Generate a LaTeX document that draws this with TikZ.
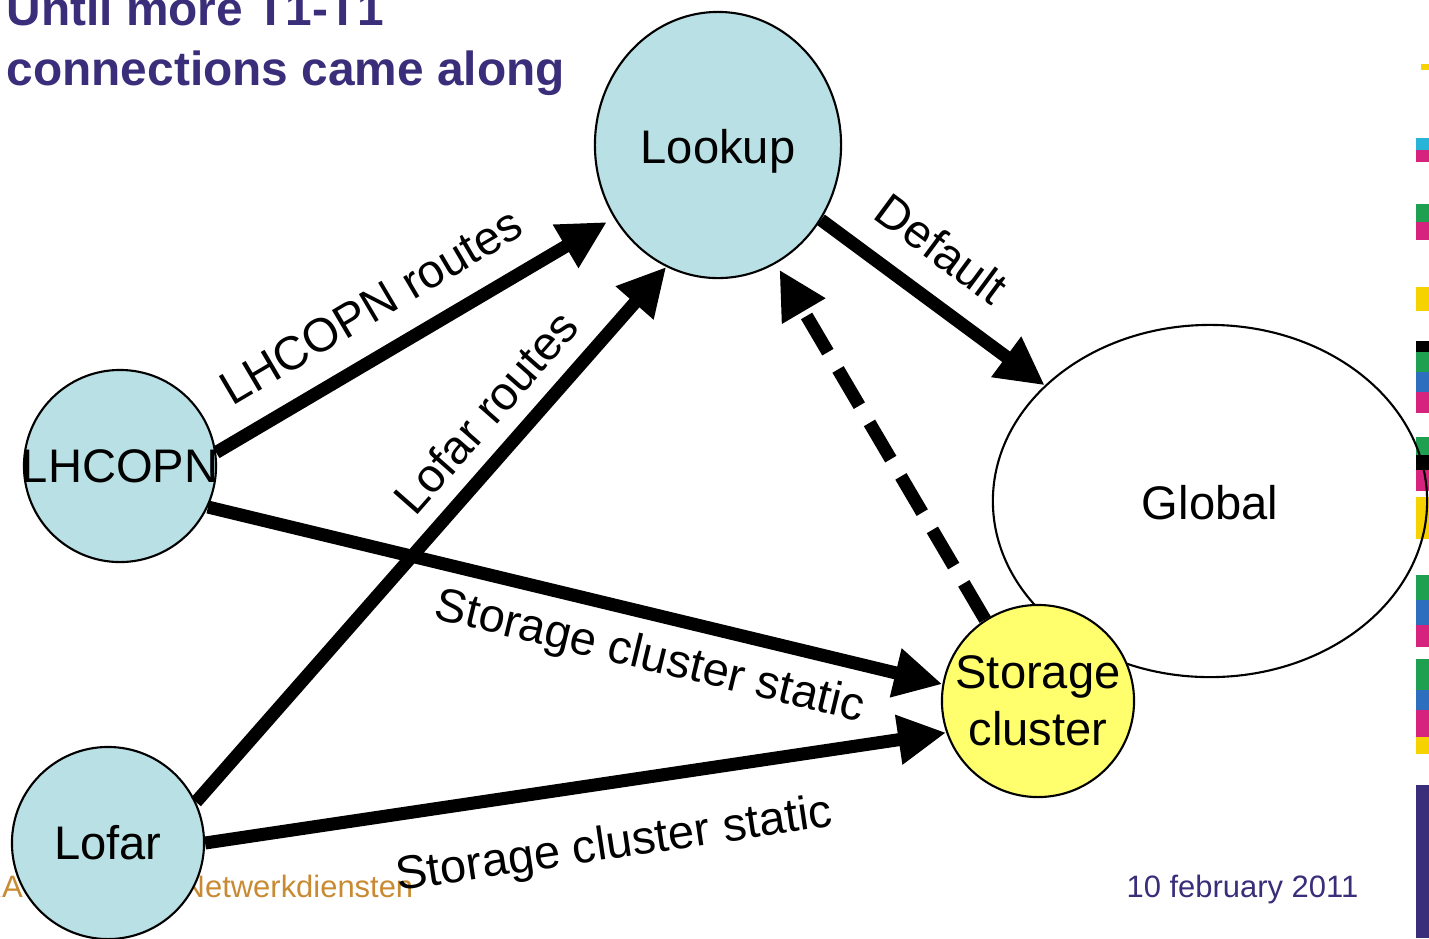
\documentclass[tikz,border=0pt]{standalone}
\usepackage{fontspec}
\setmainfont{Liberation Sans}
\usetikzlibrary{arrows.meta,shapes.geometric}
\definecolor{nodeblue}{RGB}{185,224,228}
\definecolor{nodeyellow}{RGB}{255,255,110}
\definecolor{titleblue}{RGB}{58,46,122}
\definecolor{footorange}{RGB}{200,138,50}
\definecolor{bargreen}{RGB}{30,160,80}
\definecolor{barmagenta}{RGB}{214,36,126}
\definecolor{barblue}{RGB}{45,110,190}
\definecolor{baryellow}{RGB}{245,210,0}
\definecolor{barcyan}{RGB}{40,180,215}
\begin{document}
\begin{tikzpicture}[x=0.01cm,y=-0.01cm,>={Triangle[length=0.48cm,width=0.47cm]},
    font=\fontsize{13.4}{16.2}\selectfont,
    hub/.style={circle,draw,line width=0.6pt,fill=nodeblue,inner sep=0pt,minimum size=1.92cm},
    conn/.style={->,line width=0.13cm},
    lbl/.style={sloped,inner sep=0.1cm}]
    \useasboundingbox (0,0) rectangle (1429,938);
    \clip (0,0) rectangle (1429,938);
    % strip on the right edge
    \fill[baryellow] (1421,64) rectangle (1429,70);
    \foreach \ya/\yb/\c in {138/150/barcyan,150/162/barmagenta,204/222/bargreen,222/240/barmagenta,
        287/311/baryellow,341/352/black,352/372/bargreen,372/392/barblue,392/413/barmagenta,
        437/455/bargreen,455/470/black,470/491/barmagenta,497/539/baryellow,
        575/600/bargreen,600/625/barblue,625/647/barmagenta,
        659/690/bargreen,690/710/barblue,710/737/barmagenta,737/754/baryellow,785/938/titleblue}
        \fill[\c] (1416,\ya) rectangle (1429,\yb);
    % title and footer
    \node[anchor=base west,inner sep=0pt,text=titleblue,font=\fontsize{13.6}{16}\selectfont\bfseries] (title1) at (6,25) {Until more T1-T1};
    \node[anchor=base west,inner sep=0pt,text=titleblue,font=\fontsize{13.6}{16}\selectfont\bfseries] (title2) at (6,85) {connections came along};
    \node[anchor=base east,inner sep=0pt,text=footorange,font=\fontsize{8.8}{10}\selectfont] (footer) at (414,897) {SARA Reken- en Netwerkdiensten};
    \node[anchor=base east,inner sep=0pt,text=titleblue,font=\fontsize{8.8}{10}\selectfont] (date) at (1359,897) {10 february 2011};
    % nodes
    \node[ellipse,draw,line width=0.6pt,inner sep=0pt,minimum width=4.34cm,minimum height=3.52cm] (global) at (1210,501) {\raisebox{-0.02cm}[\height][\depth]{Global}};
    \node[ellipse,draw,line width=0.6pt,fill=nodeblue,inner sep=0pt,minimum width=2.46cm,minimum height=2.66cm] (lookup) at (718,145) {\raisebox{-0.06cm}[\height][\depth]{Lookup}};
    \node[hub] (lhcopn) at (120,466) {\makebox[0pt]{LHCOPN}};
    \node[hub] (lofar) at (108,843) {Lofar};
    \node[hub,fill=nodeyellow,align=center] (storage) at (1038,701) {Storage\\cluster};
    % connections
    \draw[conn,shorten >=0.08cm] (lhcopn.8) -- node[lbl,above=0.14cm,pos=0.45]{LHCOPN routes} (lookup.215);
    \draw[conn] (lofar.25) -- node[lbl,above=0.06cm,pos=0.68]{Lofar routes} (lookup.247);
    \draw[conn] (lookup.-36) -- node[lbl,above=0.15cm,pos=0.41]{Default} (global.145);
    \draw[conn,dash pattern=on 0.42cm off 0.2cm,shorten >=0.07cm] (storage.123) -- (lookup.296);
    \draw[conn] (lhcopn.-25) -- node[lbl,below=0.05cm,pos=0.615]{Storage cluster static} (storage.170);
    \draw[conn] (lofar.0) -- node[lbl,below=0.25cm,pos=0.54]{Storage cluster static} (storage.199);
\end{tikzpicture}
\end{document}
